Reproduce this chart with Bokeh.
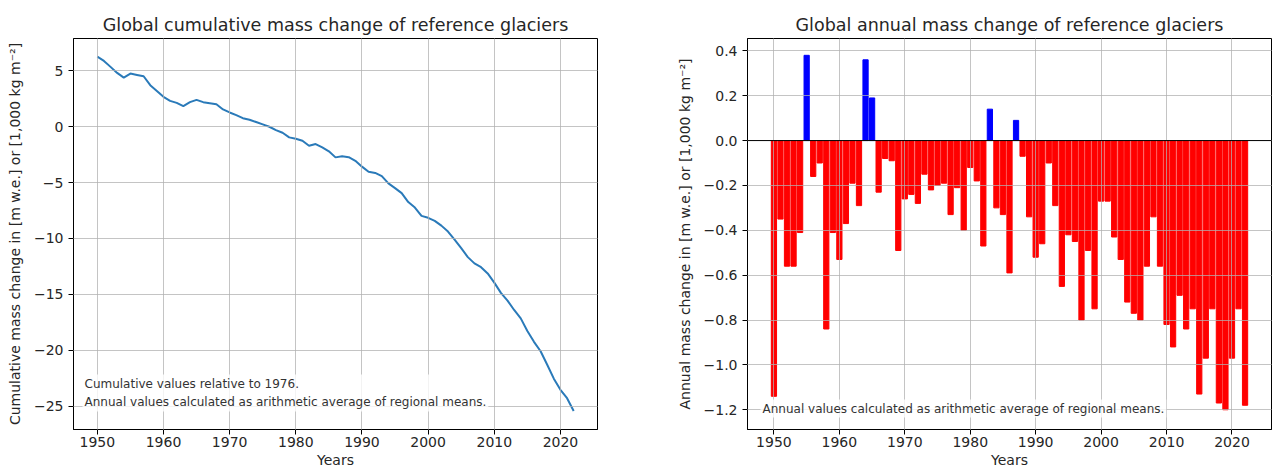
from bokeh.plotting import figure
from bokeh.layouts import row
from bokeh.models import (ColumnDataSource, FixedTicker, Span, Label,
                          CustomJSTickFormatter, Range1d)
from bokeh.embed import file_html
from bokeh.resources import INLINE

years = list(range(1950, 2023))

annual = [-1.14, -0.35, -0.56, -0.56, -0.41, 0.38, -0.16, -0.10, -0.84, -0.41,
          -0.53, -0.37, -0.19, -0.29, 0.36, 0.19, -0.23, -0.08, -0.09, -0.49,
          -0.26, -0.24, -0.28, -0.15, -0.22, -0.20, -0.19, -0.33, -0.21, -0.40,
          -0.12, -0.18, -0.47, 0.14, -0.30, -0.33, -0.59, 0.09, -0.07, -0.34,
          -0.52, -0.46, -0.10, -0.29, -0.65, -0.42, -0.45, -0.80, -0.49, -0.75,
          -0.27, -0.27, -0.43, -0.53, -0.72, -0.77, -0.80, -0.56, -0.34, -0.56,
          -0.82, -0.92, -0.69, -0.84, -0.75, -1.13, -0.97, -0.75, -1.17, -1.20,
          -0.97, -0.75, -1.18]

cumulative = [6.28, 5.89, 5.36, 4.82, 4.40, 4.76, 4.64, 4.52, 3.72, 3.21,
              2.68, 2.32, 2.14, 1.85, 2.20, 2.41, 2.20, 2.11, 2.02, 1.55,
              1.28, 1.04, 0.77, 0.63, 0.42, 0.21, 0.00, -0.30, -0.54, -0.95,
              -1.07, -1.25, -1.70, -1.55, -1.85, -2.20, -2.74, -2.65, -2.72, -3.05,
              -3.57, -4.03, -4.13, -4.42, -5.07, -5.49, -5.94, -6.74, -7.23, -7.98,
              -8.15, -8.42, -8.85, -9.38, -10.10, -10.87, -11.67, -12.23, -12.57, -13.13,
              -13.95, -14.87, -15.56, -16.40, -17.15, -18.28, -19.25, -20.10, -21.30, -22.55,
              -23.55, -24.30, -25.45]

x_ticks = [1950, 1960, 1970, 1980, 1990, 2000, 2010, 2020]
left_y_ticks = [5, 0, -5, -10, -15, -20, -25]
right_y_ticks = [0.4, 0.2, 0.0, -0.2, -0.4, -0.6, -0.8, -1.0, -1.2]

title_left = "Global cumulative mass change of reference glaciers"
title_right = "Global annual mass change of reference glaciers"
ylabel_left = "Cumulative mass change in [m w.e.] or [1,000 kg m\u207b\u00b2]"
ylabel_right = "Annual mass change in [m w.e.] or [1,000 kg m\u207b\u00b2]"
xlabel = "Years"
note_left = "Cumulative values relative to 1976.\nAnnual values calculated as arithmetic average of regional means."
note_right = "Annual values calculated as arithmetic average of regional means."

assert len(annual) == len(years) == len(cumulative)

FONT = "DejaVu Sans"
GRID = "#b0b0b0"
TXT = "#262626"


def style(p, yticks, fmt):
    p.title.text_font = FONT
    p.title.text_font_size = "17.5px"
    p.title.text_font_style = "normal"
    p.title.align = "center"
    p.title.text_color = TXT
    p.title.standoff = 8
    p.outline_line_color = "black"
    p.outline_line_width = 1
    p.outline_line_alpha = 1
    for ax in (p.xaxis[0], p.yaxis[0]):
        ax.axis_line_color = "black"
        ax.major_tick_line_color = "black"
        ax.major_tick_out = 5
        ax.major_tick_in = 0
        ax.minor_tick_line_color = None
        ax.major_label_text_font = FONT
        ax.major_label_text_font_size = "14px"
        ax.major_label_text_color = TXT
        ax.axis_label_text_font = FONT
        ax.axis_label_text_font_size = "14px"
        ax.axis_label_text_font_style = "normal"
        ax.axis_label_text_color = TXT
    p.xaxis[0].major_label_standoff = 2
    p.yaxis[0].major_label_standoff = 5
    p.xaxis[0].ticker = FixedTicker(ticks=x_ticks)
    p.yaxis[0].ticker = FixedTicker(ticks=yticks)
    p.yaxis[0].formatter = CustomJSTickFormatter(
        code="return tick.toFixed(%d).replace('-', '\\u2212');" % fmt)
    p.xaxis[0].axis_label = xlabel
    p.xaxis[0].axis_label_standoff = 2
    p.yaxis[0].axis_label_standoff = 8
    for g in (p.xgrid[0], p.ygrid[0]):
        g.grid_line_color = GRID
        g.grid_line_alpha = 0.75
        g.grid_line_width = 1
        g.level = "guide"
    p.background_fill_color = "white"
    p.border_fill_color = "white"


# Left: cumulative
p1 = figure(width=640, height=470, output_backend="svg", toolbar_location=None,
            title=title_left, x_range=Range1d(1946.4, 2025.6),
            y_range=Range1d(-27.1, 7.9),
            min_border_left=73, min_border_right=43, min_border_top=38,
            min_border_bottom=40)
src1 = ColumnDataSource(dict(year=years, cum=cumulative))
p1.line("year", "cum", source=src1, line_color="#2a7ab9", line_width=2)
style(p1, left_y_ticks, 0)
p1.yaxis[0].axis_label = ylabel_left
p1.add_layout(Label(x=84 - 73 - 2, y=18, x_units="screen", y_units="screen",
                    text=note_left, text_font=FONT, text_font_size="12px",
                    text_color="#333333", text_line_height=1.35,
                    background_fill_color="white", background_fill_alpha=0.8,
                    padding=2))

# Right: annual
p2 = figure(width=632, height=470, output_backend="svg", toolbar_location=None,
            title=title_right, x_range=Range1d(1945.96, 2026.04),
            y_range=Range1d(-1.288, 0.455),
            min_border_left=107, min_border_right=1, min_border_top=38,
            min_border_bottom=40)
colors = ["#0000ff" if v > 0 else "#ff0000" for v in annual]
src2 = ColumnDataSource(dict(year=years, val=annual, color=colors))
p2.vbar(x="year", top="val", bottom=0, width=0.8, source=src2,
        fill_color="color", line_color="color")
p2.add_layout(Span(location=0, dimension="width", line_color="black", line_width=1))
style(p2, right_y_ticks, 1)
p2.yaxis[0].axis_label = ylabel_right
p2.add_layout(Label(x=762 - 747 - 2, y=12, x_units="screen", y_units="screen",
                    text=note_right, text_font=FONT, text_font_size="12px",
                    text_color="#333333",
                    background_fill_color="white", background_fill_alpha=0.8,
                    padding=2))

layout = row(p1, p2, spacing=0)
open("out.html", "w").write(file_html(layout, INLINE))
